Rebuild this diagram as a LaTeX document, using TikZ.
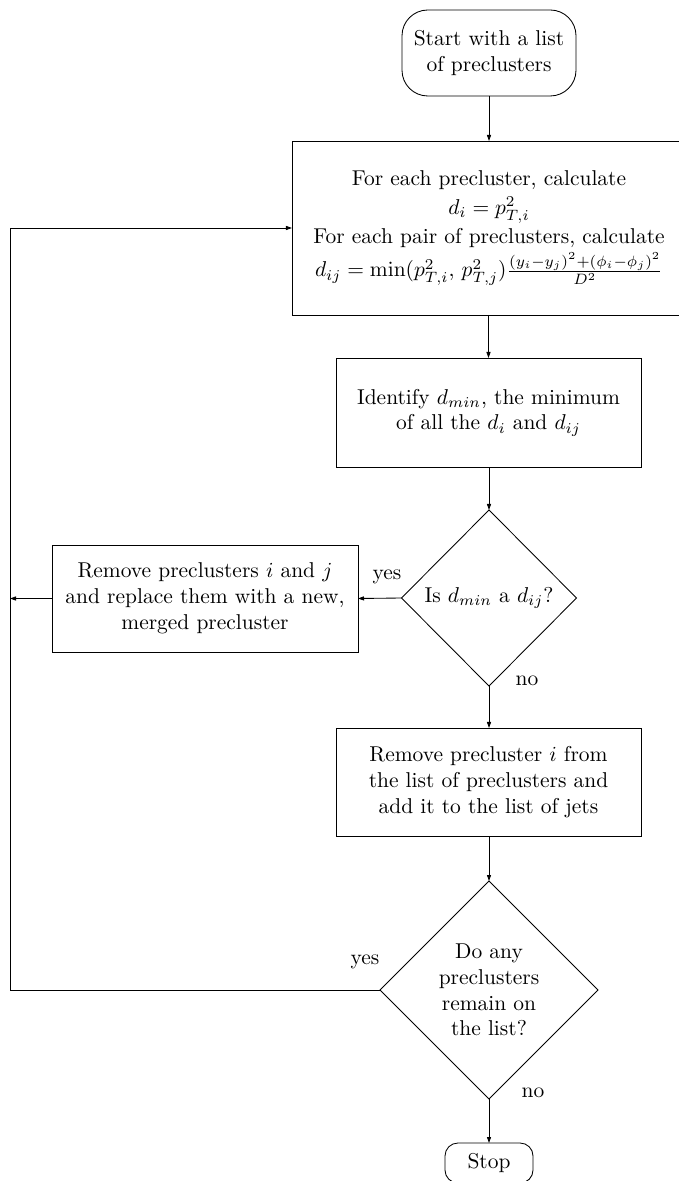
\documentclass[tikz,border=0pt]{standalone}
\usetikzlibrary{shapes.geometric,arrows.meta}
\def\pxu{0.466}
\begin{document}
\begin{tikzpicture}[x=0.466pt,y=-0.466pt,
  every node/.style={inner sep=0pt,outer sep=0pt,align=center},
  proc/.style={draw,line width=0.4pt,rectangle},
  term/.style={draw,line width=0.4pt,rectangle,rounded corners=#1},
  decide/.style={draw,line width=0.4pt,diamond,aspect=1},
  conn/.style={line width=0.4pt,-{Triangle[length=2.8pt,width=1.9pt]}},
  lbl/.style={font=\normalsize}]
\useasboundingbox (0,0) rectangle (678,1181);
\node[term=12pt,minimum width=174*\pxu pt,minimum height=86*\pxu pt] (start) at (489,53)
  {Start with a list\\of preclusters};
\node[proc,minimum width=394*\pxu pt,minimum height=174*\pxu pt] (calc) at (489,228)
  {For each precluster, calculate\\[1.5pt]
   $d_i = p_{T,i}^2$\\[1.5pt]
   For each pair of preclusters, calculate\\[1.5pt]
   $d_{ij} = \min(p_{T,i}^2,\, p_{T,j}^2)\frac{(y_i-y_j)^2+(\phi_i-\phi_j)^2}{D^2}$};
\node[proc,minimum width=305*\pxu pt,minimum height=109*\pxu pt] (ident) at (488.5,412.5)
  {Identify $d_{min}$, the minimum\\of all the $d_i$ and $d_{ij}$};
\node[decide,minimum width=175*\pxu pt,minimum height=176*\pxu pt] (dec1) at (489,598)
  {Is $d_{min}$ a $d_{ij}$?};
\node[proc,minimum width=306*\pxu pt,minimum height=107*\pxu pt] (merge) at (205,598.5)
  {Remove preclusters $i$ and $j$\\and replace them with a new,\\merged precluster};
\node[proc,minimum width=305*\pxu pt,minimum height=108*\pxu pt] (jet) at (488.5,782)
  {Remove precluster $i$ from\\the list of preclusters and\\add it to the list of jets};
\node[decide,minimum width=218*\pxu pt,minimum height=218*\pxu pt] (dec2) at (489,990)
  {Do any\\preclusters\\remain on\\the list?};
\node[term=6pt,minimum width=88*\pxu pt,minimum height=40*\pxu pt] (stop) at (489,1163)
  {Stop};
\coordinate (cornerlow) at (10,990);
\coordinate (cornerhigh) at (10,228);
\draw[conn] (start.south) -- (start.south |- calc.north);
\draw[conn] (calc.south -| ident) -- (ident.north);
\draw[conn] (ident.south -| dec1) -- (dec1.north);
\draw[conn] (dec1.west) -- (merge.east);
\draw[conn] (merge.west) -- (merge.west -| cornerlow);
\draw[conn] (dec1.south) -- (dec1.south |- jet.north);
\draw[conn] (jet.south -| dec2) -- (dec2.north);
\draw[conn] (dec2.south) -- (stop.north);
\draw[conn] (dec2.west) -- (cornerlow) -- (cornerhigh) -- (calc.west);
\node[lbl] (y1) at (387,577) {yes};
\node[lbl] (n1) at (527,681) {no};
\node[lbl] (y2) at (365,962) {yes};
\node[lbl] (n2) at (533,1093) {no};
\end{tikzpicture}
\end{document}
